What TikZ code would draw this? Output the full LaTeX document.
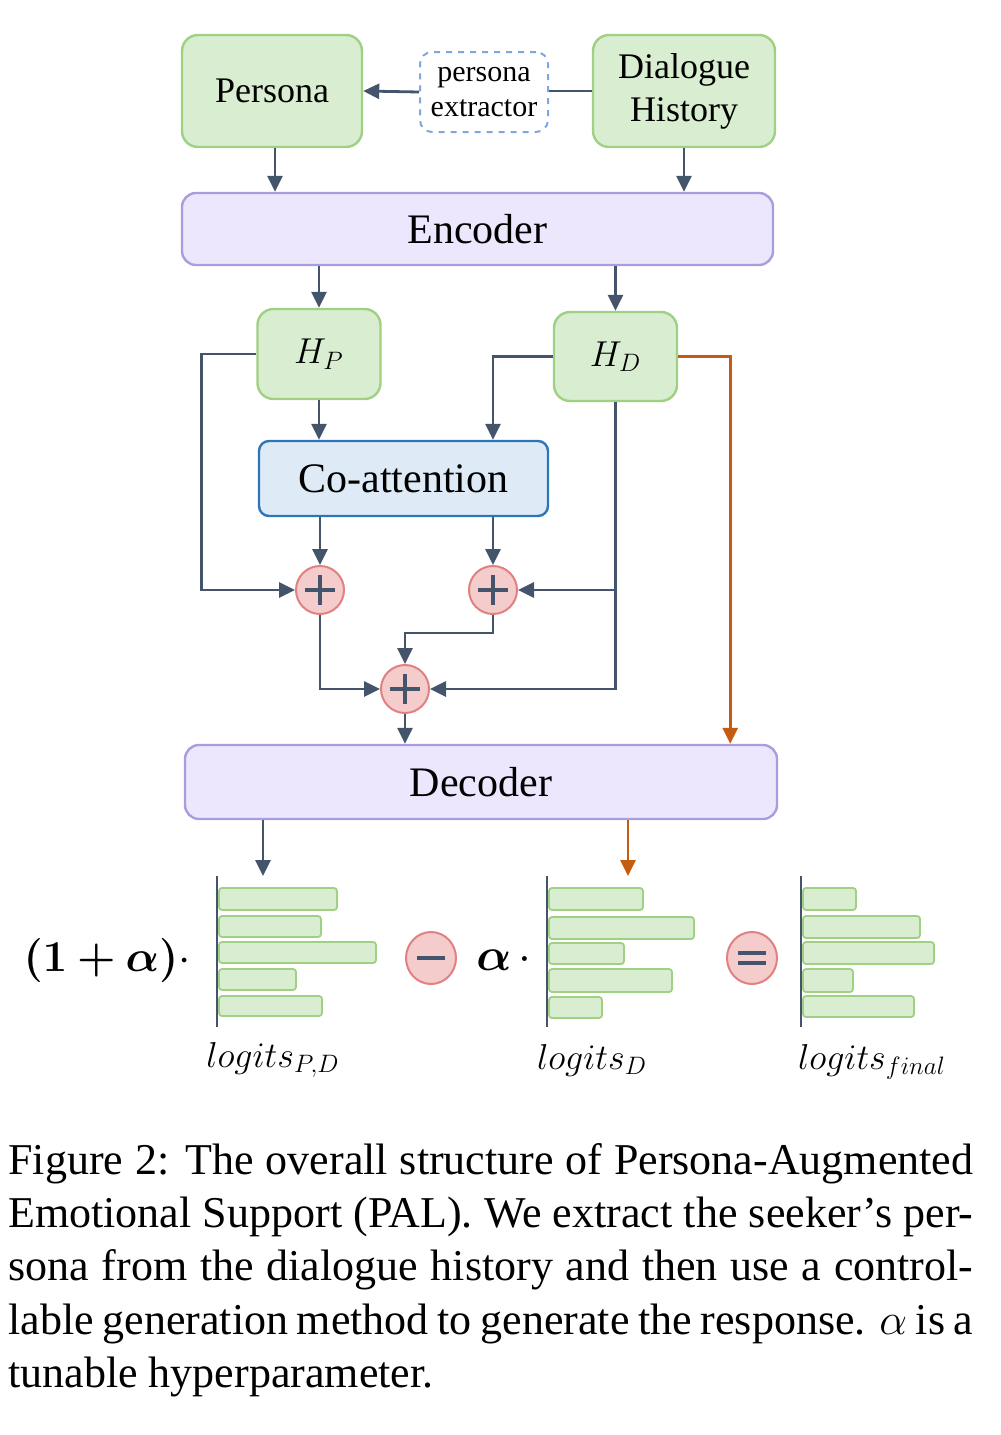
\RequirePackage{fix-cm}
\documentclass[tikz,border=0pt]{standalone}
\usepackage{fontspec}
\setmainfont{Liberation Serif}
\usepackage{amsmath,bm}
\usetikzlibrary{arrows.meta,positioning,shapes.geometric}
\definecolor{palgreen}{RGB}{217,238,208}
\definecolor{palgreenline}{RGB}{160,208,132}
\definecolor{pallav}{RGB}{236,231,252}
\definecolor{pallavline}{RGB}{170,156,222}
\definecolor{palblue}{RGB}{222,235,247}
\definecolor{palblueline}{RGB}{46,117,182}
\definecolor{paldash}{RGB}{126,166,224}
\definecolor{palslate}{RGB}{68,84,106}
\definecolor{palorange}{RGB}{197,90,17}
\definecolor{palpink}{RGB}{244,204,204}
\definecolor{palpinkline}{RGB}{226,128,128}
\newcommand{\logitchart}[2]{%
  \draw[axisline] (#1,876) -- (#1,1027);
  \foreach \ya/\yb/\xr in {#2}{\draw[barbox] (#1+2,\ya) rectangle (\xr,\yb);}
}
\newcommand{\sumsign}[1]{%
  \draw[palslate,line width=2.4pt] ([xshift=-7.5pt]#1.center) -- ([xshift=7.5pt]#1.center)
    ([yshift=-7.5pt]#1.center) -- ([yshift=7.5pt]#1.center);
}

\begin{document}
\begin{tikzpicture}[x=.5pt,y=-.5pt,
    greenbox/.style={draw=palgreenline,fill=palgreen,line width=1.2pt,rounded corners=8pt,
      align=center,font=\fontsize{18}{21.5}\selectfont},
    lavbox/.style={draw=pallavline,fill=pallav,line width=1.2pt,rounded corners=7pt,
      font=\fontsize{21}{25}\selectfont},
    flow/.style={palslate,line width=1.4pt,-{Triangle[length=8pt,width=7.5pt]}},
    plainflow/.style={palslate,line width=1.4pt},
    hotflow/.style={palorange,line width=1.4pt,-{Triangle[length=8pt,width=7.5pt]}},
    sumnode/.style={circle,draw=palpinkline,fill=palpink,line width=1pt,minimum size=24pt,inner sep=0pt},
    opnode/.style={ellipse,draw=palpinkline,fill=palpink,line width=1pt,minimum width=25pt,
      minimum height=26pt,inner sep=0pt},
    axisline/.style={palslate,line width=1pt},
    barbox/.style={draw=palgreenline,fill=palgreen,line width=.9pt,rounded corners=1.5pt},
    lbl/.style={font=\fontsize{18}{22}\selectfont}]
  \useasboundingbox (0,0) rectangle (1001,1435);
  % inputs
  \node[greenbox,minimum width=90pt,minimum height=56pt] (persona) at (272,91) {\raisebox{-1.5pt}{Persona}};
  \node[greenbox,minimum width=91pt,minimum height=56pt] (history) at (684,91) {\raisebox{-2.5pt}{Dialogue}\\\raisebox{-2.5pt}{History}};
  \node[draw=paldash,dashed,line width=1pt,rounded corners=6pt,minimum width=64pt,minimum height=40pt,
    inner sep=1pt,align=center,font=\fontsize{15}{17.5}\selectfont] (extract) at (484,92) {persona\\extractor};
  \draw[plainflow] (history.west) -- (history.west -| extract.east);
  \draw[flow] (extract.west) -- (persona.east);
  % encoder
  \node[lavbox,minimum width=295.5pt,minimum height=36pt] (enc) at (477.5,229) {Encoder};
  \draw[flow] ([xshift=1.5pt]persona.south) -- ([xshift=1.5pt]persona.south |- enc.north);
  \draw[flow] (history.south) -- (history.south |- enc.north);
  \node[greenbox,minimum width=61.5pt,minimum height=45pt] (hp) at (319,354) {$H_P$};
  \node[greenbox,minimum width=61.5pt,minimum height=44.5pt] (hd) at (615.5,356.5) {$H_D$};
  \draw[flow] (hp.north |- enc.south) -- (hp.north);
  \draw[flow] (hd.north |- enc.south) -- (hd.north);
  % co-attention and sums
  \node[draw=palblueline,fill=palblue,line width=1.2pt,rounded corners=5pt,minimum width=144.5pt,
    minimum height=37.5pt,font=\fontsize{21}{25}\selectfont] (coatt) at (403.5,478.5) {Co-attention};
  \node[sumnode] (sum1) at (320,590) {};
  \node[sumnode] (sum2) at (493,590) {};
  \node[sumnode] (sum3) at (405,689) {};
  \sumsign{sum1}
  \sumsign{sum2}
  \sumsign{sum3}
  \draw[flow] (hp.south) -- (hp.south |- coatt.north);
  \draw[flow] (hd.west) -| (sum2.north |- coatt.north);
  \draw[flow] (sum1.north |- coatt.south) -- (sum1.north);
  \draw[flow] (sum2.north |- coatt.south) -- (sum2.north);
  \draw[flow] (hp.west) -- ++(-55,0) |- (sum1.west);
  \draw[flow] (hd.south) |- (sum3.east);
  \draw[flow] (hd.south |- sum2.east) -- (sum2.east);
  \draw[flow] (sum1.south) |- (sum3.west);
  \draw[flow] (sum2.south) -- ++(0,18) -| (sum3.north);
  % decoder
  \node[lavbox,minimum width=296pt,minimum height=37pt] (dec) at (481,782) {Decoder};
  \draw[flow] (sum3.south) -- (sum3.south |- dec.north);
  \draw[hotflow] (hd.east) -| ([xshift=-24pt]dec.north east);
  \coordinate (pdtop) at (263,876);
  \coordinate (dtop) at (628,876);
  \draw[flow] (dec.south -| pdtop) -- (pdtop);
  \draw[hotflow] (dec.south -| dtop) -- (dtop);
  % logits
  \logitchart{217}{888/910/337,916/937/321,942/963/376,969/990/296,996/1016/322}
  \logitchart{547}{888/910/643,917/939/694,943/964/624,969/992/672,997/1018/602}
  \logitchart{801}{888/910/856,916/938/920,942/964/934,969/992/853,996/1017/914}
  \node[font=\fontsize{22}{26}\selectfont] (weight) at (107,960) {$\bm{(1+\alpha)}\cdot$};
  \node[font=\fontsize{23}{26}\selectfont] (alphaw) at (504,960) {$\bm{\alpha}\,\cdot$};
  \node[opnode] (minus) at (431,958) {};
  \node[opnode] (equal) at (752,958) {};
  \draw[palslate,line width=2.2pt] ([xshift=-7pt]minus.center) -- ([xshift=7pt]minus.center);
  \draw[palslate,line width=2.2pt] ([xshift=-7pt,yshift=2.6pt]equal.center) -- ([xshift=7pt,yshift=2.6pt]equal.center)
    ([xshift=-7pt,yshift=-2.6pt]equal.center) -- ([xshift=7pt,yshift=-2.6pt]equal.center);
  \node[lbl] (lpd) at (273,1060) {$logits_{P,D}$};
  \node[lbl] (ld) at (592,1060) {$logits_D$};
  \node[lbl] (lf) at (872,1062) {$logits_{final}$};
  % caption
  \node[anchor=north west,inner sep=0pt,text width=482.5pt,align=justify,
    font=\fontsize{22}{26.65}\selectfont] (caption) at (8,1143)
    {Figure 2: The overall structure of Persona-Augmented\linebreak Emotional Support (PAL). We extract the seeker's per-\linebreak sona from the dialogue history and then use a control-\linebreak lable generation method to generate the response. $\alpha$ is a\linebreak tunable hyperparameter.};
\end{tikzpicture}
\end{document}
